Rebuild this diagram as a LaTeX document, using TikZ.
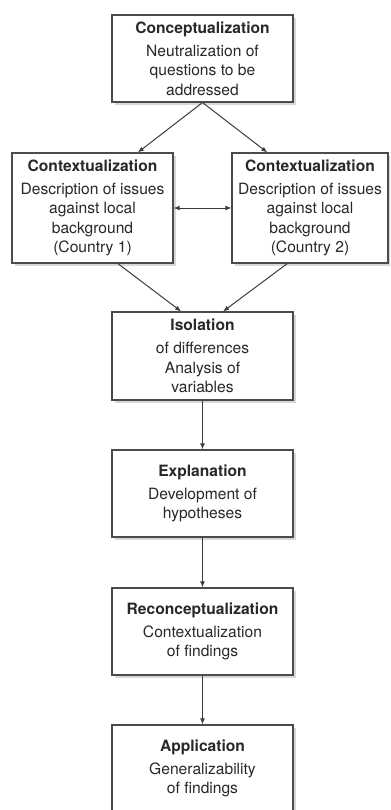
\documentclass[tikz,border=0pt]{standalone}
\usepackage{fontspec}
\setmainfont{TeX Gyre Heros}
\usetikzlibrary{arrows.meta,shadows}

\definecolor{boxgray}{RGB}{75,75,75}
\definecolor{textgray}{RGB}{40,40,40}
\definecolor{arrowgray}{RGB}{60,60,60}
\definecolor{shadowgray}{RGB}{215,215,215}
\newcommand\stagefont{\fontsize{11.7}{14.6}\selectfont}

\tikzset{
  stage/.style={draw=boxgray, line width=0.8pt, fill=white, align=center, inner sep=0pt,
    font=\stagefont, text=textgray,
    drop shadow={shadow xshift=2.2pt, shadow yshift=-2.2pt, fill=shadowgray, opacity=1}},
  flow/.style={-{Latex[length=4.5pt,width=3.6pt]}, draw=arrowgray, line width=0.75pt},
}

\begin{document}
\begin{tikzpicture}[x=0.75pt,y=0.75pt,yscale=-1,xscale=1]
    \clip (0,0) rectangle (390,810);

    % Stage boxes
    \node (concept) [stage, minimum width=135.75pt, minimum height=65.25pt] at (202.5,58.5)
      {\textbf{Conceptualization}\\[2.6pt]Neutralization of\\questions to be\\addressed};
    \node (ctxone) [stage, minimum width=120.75pt, minimum height=82.5pt] at (92.5,208)
      {\textbf{Contextualization}\\[2.6pt]Description of issues\\against local\\background\\(Country 1)};
    \node (ctxtwo) [stage, minimum width=117pt, minimum height=82.5pt] at (310,208)
      {\textbf{Contextualization}\\[2.6pt]Description of issues\\against local\\background\\(Country 2)};
    \node (isolation) [stage, minimum width=135.75pt, minimum height=66pt] at (202.5,356)
      {\textbf{Isolation}\\[2.6pt]of differences\\Analysis of\\variables};
    \node (explanation) [stage, minimum width=135.75pt, minimum height=65.25pt] at (202.5,493.5)
      {\textbf{Explanation}\\[2.6pt]Development of\\hypotheses};
    \node (reconcept) [stage, minimum width=135.75pt, minimum height=65.25pt] at (202.5,631.5)
      {\textbf{Reconceptualization}\\[2.6pt]Contextualization\\of findings};
    \node (application) [stage, minimum width=135.75pt, minimum height=65.25pt] at (202.5,768.5)
      {\textbf{Application}\\[2.6pt]Generalizability\\of findings};

    % Connectors
    \draw [flow] (concept.south) -- ([xshift=34pt]ctxone.north);
    \draw [flow] (concept.south) -- ([xshift=-32pt]ctxtwo.north);
    \draw [flow, {Latex[length=4.5pt,width=3.6pt]}-{Latex[length=4.5pt,width=3.6pt]}] (ctxone.east) -- (ctxtwo.west);
    \draw [flow] ([xshift=19pt]ctxone.south) -- ([xshift=-16pt]isolation.north);
    \draw [flow] ([xshift=-17pt]ctxtwo.south) -- ([xshift=15.4pt]isolation.north);
    \draw [flow] (isolation) -- (explanation);
    \draw [flow] (explanation) -- (reconcept);
    \draw [flow] (reconcept) -- (application);

\end{tikzpicture}
\end{document}
